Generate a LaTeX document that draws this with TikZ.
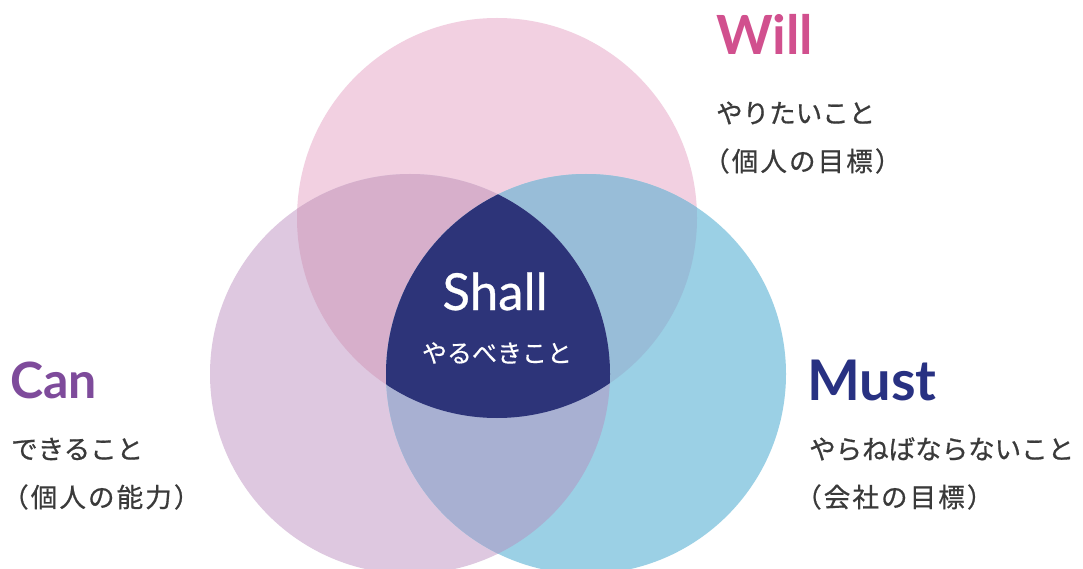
\documentclass[tikz,border=0pt]{standalone}
\usepackage{fontspec}
\newfontfamily\lato{Lato}
\newfontfamily\latom{Lato}[FakeBold=0.6]
\newfontfamily\jp{Noto Sans CJK JP}[FakeBold=0.7]
\newfontfamily\jpw{Noto Sans CJK JP}[FakeBold=0.4]
\newfontfamily\jpk{Noto Sans CJK JP}[FakeBold=0.7,LetterSpace=8]
\definecolor{willc}{HTML}{F2D0E1}
\definecolor{canc}{HTML}{DEC8E0}
\definecolor{mustc}{HTML}{9BD0E5}
\definecolor{wcc}{HTML}{D7AFCB}
\definecolor{wmc}{HTML}{98BDD8}
\definecolor{cmc}{HTML}{A8B0D2}
\definecolor{shallc}{HTML}{2D3479}
\definecolor{willtxt}{HTML}{D1508E}
\definecolor{cantxt}{HTML}{7E4B9B}
\definecolor{musttxt}{HTML}{283182}
\definecolor{jptxt}{HTML}{3A3A3A}
\tikzset{
  title/.style={inner sep=0pt, anchor=base west, font=\lato\bfseries\fontsize{#1}{#1}\selectfont},
  jpline/.style={inner sep=0pt, anchor=west, text=jptxt, font=\jp\fontsize{26.5}{26.5}\selectfont},
  jpkanji/.style={inner sep=0pt, anchor=west, text=jptxt, font=\jpk\fontsize{26.5}{26.5}\selectfont},
}
\begin{document}
\begin{tikzpicture}[x=1pt,y=-1pt]
\useasboundingbox (0,0) rectangle (1083,569);
\fill[white] (0,0) rectangle (1083,569);
\clip (0,0) rectangle (1083,569);
\coordinate (W) at (497,218);
\coordinate (C) at (410,374);
\coordinate (M) at (586,374);
\def\R{200pt}
\fill[willc] (W) circle[radius=\R];
\fill[canc] (C) circle[radius=\R];
\fill[mustc] (M) circle[radius=\R];
\begin{scope}
  \clip (W) circle[radius=\R];
  \fill[wcc] (C) circle[radius=\R];
  \fill[wmc] (M) circle[radius=\R];
\end{scope}
\begin{scope}
  \clip (C) circle[radius=\R];
  \fill[cmc] (M) circle[radius=\R];
\end{scope}
\begin{scope}
  \clip (W) circle[radius=\R];
  \clip (C) circle[radius=\R];
  \fill[shallc] (M) circle[radius=\R];
\end{scope}
% labels
\node[title=54, text=willtxt] (will) at (716,55) {Will};
\node[jpline] (willa) at (716,113) {やりたいこと};
\node[jpkanji] (willb) at (703,161) {（個人の目標）};
\node[title=50, text=cantxt] (can) at (10,398) {Can};
\node[jpline] (cana) at (11,449) {できること};
\node[jpkanji] (canb) at (2,497) {（個人の能力）};
\node[title=56, text=musttxt] (must) at (807,400) {Must};
\node[jpline] (musta) at (809,449) {やらねばならないこと};
\node[jpkanji] (mustb) at (795,497) {（会社の目標）};
\node[inner sep=0pt, anchor=base, text=white, font=\latom\fontsize{51}{51}\selectfont] (shall) at (495,310) {Shall};
\node[inner sep=0pt, anchor=center, text=white, font=\jpw\fontsize{25}{25}\selectfont] (shallj) at (497,353) {やるべきこと};
\end{tikzpicture}
\end{document}
